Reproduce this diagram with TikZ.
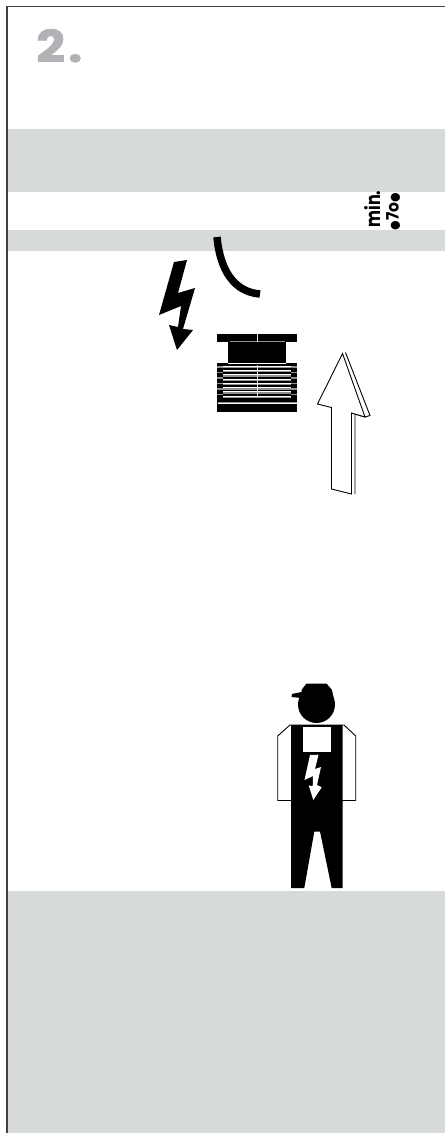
\documentclass[tikz,border=0pt]{standalone}
\usepackage{fontspec}
\setmainfont{Poppins}
\newfontfamily\heavyf[UprightFont=* Bold,FakeBold=1.6,FakeStretch=1.15]{Poppins}
\newfontfamily\dotf{DejaVu Sans}
\definecolor{band}{HTML}{D6DADB}
\definecolor{numgray}{HTML}{B0B2B5}
\definecolor{stripe}{HTML}{909090}
\begin{document}
\begin{tikzpicture}[x=1pt,y=-1pt,
  thin outline/.style={draw=black,line width=0.9pt,fill=white,line join=miter},
  side label/.style={rotate=90,anchor=base,inner sep=0pt}]
\useasboundingbox (0,0) rectangle (445,1133);
\fill[white] (0,0) rectangle (445,1133);
% bands
\fill[band] (6,129) rectangle (445,192);
\fill[band] (6,230) rectangle (445,251);
\fill[band] (6,891) rectangle (445,1133);
% frame
\draw[black!75,line width=1.3pt] (445,6.5) -- (6.3,6.5);
\draw[black!75,line width=2pt] (6.5,6) -- (6.5,1133);
% heading
\node[anchor=base west,inner sep=0pt,text=numgray,font={\fontsize{44}{44}\selectfont\heavyf}] (num) at (36,62) {2\kern3pt.};
% min 70
\node[side label,yscale=1.25,font={\fontsize{16}{16}\selectfont\bfseries}] (minlab) at (380,209) {min.};
\node[side label,yscale=1.1,font={\fontsize{15.5}{16}\selectfont\bfseries}] (dist) at (398.5,211.5) {{\dotf\fontsize{11}{11}\selectfont ●}7o{\dotf\fontsize{11}{11}\selectfont ●}};
% curve
\draw[line width=7.5pt] (217,237) .. controls (220,270) and (234,292) .. (260,294);
% big bolt
\fill (174,262) -- (187,260) -- (178,293) -- (195,288) -- (183,329) -- (193,330) -- (177,350) -- (169,325) -- (178,327) -- (181,306) -- (159,315) -- cycle;
% machine
\fill (217,334) rectangle (297,342);
\fill (228,342) rectangle (286,363);
\fill (217,363) rectangle (297,412);
\draw[stripe,line width=0.8pt] (230,341.3) -- (285,341.3);
\draw[white,line width=0.6pt] (228,362.8) -- (286,362.8);
\foreach \yy in {366,370.3,374.6,378.9,383.2,387.5,391.8,396.1}{
  \draw[stripe,line width=1.6pt] (223,\yy+1.2) -- (291,\yy+1.2);
  \draw[white,line width=0.8pt] (223,\yy) -- (291,\yy);
}
\foreach \yy in {367,372.5,378,383.5,389,394.5}
  \draw[stripe,line width=1.2pt] (217,\yy) -- (223,\yy) (291,\yy) -- (297,\yy);
\draw[stripe,line width=2.2pt] (218,403) -- (297,403);
\draw[white,line width=0.8pt] (218,403) -- (297,403);
\draw[white!90!black,line width=0.5pt] (257,334) -- (257,342);
\draw[white!90!black,line width=0.5pt] (257,365) -- (257,398);
% up arrow
\draw[thin outline] (345.5,352.5) -- (370,415.5) -- (365,417) -- (355,414) -- (355,494);
\draw[thin outline] (342.5,353.5) -- (317.5,404) -- (331.5,407.5) -- (331.5,489) -- (351.5,494) -- (351.5,413) -- (365,417) -- cycle;
% person
\draw[draw=black,line width=0.9pt,fill=white] (290,725) -- (277.7,736) -- (277.7,800.5) -- (355.7,800.5) -- (355.7,736) -- (344,725) -- cycle;
\fill (291,725) -- (342.5,725) -- (342.5,888) -- (331.7,888) -- (320,831.5) -- (314.3,831.5) -- (304.3,888) -- (291,888) -- cycle;
\fill[white] (303.3,726.5) rectangle (331,752);
\fill[white] (310,755) -- (318.5,754.7) -- (315,769) -- (321,767) -- (317,785) -- (321.7,787.3) -- (313.3,800) -- (308.7,785.3) -- (312.7,786.3) -- (313,776) -- (304.5,780) -- cycle;
\fill (316.5,704.5) circle (18.5);
\fill (301.5,690) -- (306.5,683.5) -- (326.5,683.5) -- (332,690) -- (334,700) -- (300,700) -- (301.5,698) -- (291.5,697) -- (292,694) -- (301.5,692) -- cycle;
\end{tikzpicture}
\end{document}
